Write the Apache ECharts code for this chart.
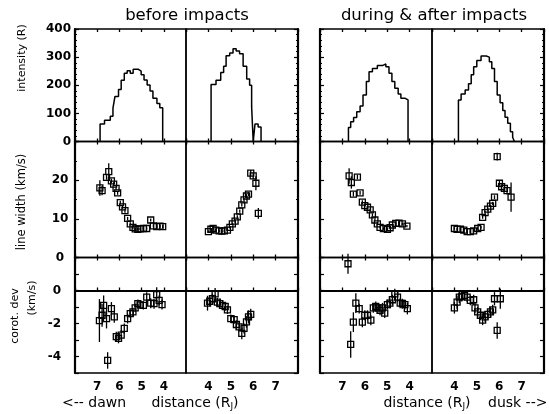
<!DOCTYPE html>
<html>
<head>
<meta charset="utf-8">
<script src="https://cdn.jsdelivr.net/npm/echarts@6/dist/echarts.min.js"></script>
<style>
html, body { margin: 0; padding: 0; background: #fff; }
#main { width: 549px; height: 414px; }
</style>
</head>
<body>
<div id="main"></div>
<script>
// distance (R_J) vs intensity (R), histogram edges: [distance, value]
var intBeforeDawn = [[6.87, 62], [6.67, 76], [6.41, 90], [6.29, 119], [6.2, 160], [6.04, 185], [5.92, 218], [5.78, 243], [5.65, 252], [5.51, 243], [5.38, 257], [5.16, 250], [5.02, 237], [4.89, 219], [4.75, 201], [4.62, 180], [4.49, 154], [4.31, 135], [4.18, 120], [4.05, 0]];
var intBeforeDusk = [[4.12, 203], [4.34, 218], [4.55, 245], [4.68, 268], [4.79, 305], [4.95, 315], [5.10, 330], [5.24, 322], [5.39, 312], [5.55, 268], [5.71, 222], [5.84, 200], [5.93, 124], [6.0, 0], [6.08, 62], [6.22, 52], [6.35, 0]];
var intAfterDawn = [[6.73, 50], [6.63, 70], [6.5, 85], [6.36, 106], [6.21, 126], [6.08, 165], [5.93, 213], [5.81, 248], [5.66, 260], [5.44, 270], [5.21, 276], [5.06, 266], [4.92, 243], [4.79, 213], [4.66, 189], [4.51, 169], [4.39, 154], [4.21, 148], [4.07, 0]];
var intAfterDusk = [[4.18, 148], [4.3, 169], [4.48, 183], [4.63, 205], [4.75, 237], [4.86, 266], [5.0, 288], [5.19, 304], [5.42, 300], [5.56, 284], [5.67, 260], [5.79, 213], [5.91, 165], [6.04, 138], [6.16, 110], [6.26, 86], [6.38, 65], [6.5, 35], [6.6, 15], [6.68, 0]];

// line width (km/s): [distance, value, error]
var lwBeforeDawn = [[6.88, 18.0, 2.0], [6.78, 17.3, 1.2], [6.58, 20.7, 0.6], [6.48, 22.2, 2.2], [6.36, 19.8, 0.6], [6.26, 19.0, 0.5], [6.15, 17.9, 0.5], [6.08, 16.7, 0.5], [5.96, 14.2, 0.5], [5.86, 13.1, 0.5], [5.75, 12.1, 0.5], [5.63, 10.1, 0.4], [5.51, 8.7, 0.4], [5.39, 7.8, 0.4], [5.29, 7.4, 0.3], [5.17, 7.3, 0.3], [5.07, 7.4, 0.3], [4.92, 7.5, 0.3], [4.77, 7.5, 0.3], [4.59, 9.7, 0.4], [4.47, 8.2, 0.4], [4.32, 8.0, 0.4], [4.17, 8.1, 0.4], [4.05, 8.0, 0.4]];
var lwBeforeDusk = [[4.0, 6.7, 0.3], [4.11, 7.3, 0.3], [4.21, 7.5, 0.3], [4.33, 7.1, 0.3], [4.48, 6.9, 0.3], [4.6, 6.8, 0.3], [4.71, 6.9, 0.3], [4.85, 7.1, 0.3], [4.96, 7.8, 0.3], [5.07, 8.7, 0.3], [5.19, 9.4, 0.4], [5.29, 10.5, 0.4], [5.4, 12.0, 0.4], [5.49, 13.6, 0.4], [5.59, 14.9, 0.4], [5.7, 15.9, 0.5], [5.79, 16.4, 0.5], [5.89, 21.8, 0.8], [6.0, 21.1, 0.8], [6.12, 19.2, 1.8], [6.23, 11.4, 1.4]];
var lwAfterDawn = [[6.7, 21.1, 2.0], [6.6, 19.4, 1.6], [6.51, 16.4, 0.6], [6.33, 20.8, 0.6], [6.21, 16.7, 0.5], [6.11, 14.3, 0.5], [6.0, 13.4, 0.5], [5.88, 13.0, 0.4], [5.76, 12.3, 0.4], [5.66, 11.0, 0.4], [5.55, 9.7, 0.4], [5.44, 8.7, 0.4], [5.32, 7.8, 0.3], [5.17, 7.5, 0.3], [4.99, 7.3, 0.3], [4.87, 7.7, 0.3], [4.77, 8.4, 0.3], [4.62, 8.8, 0.3], [4.47, 8.9, 0.3], [4.32, 8.7, 0.3], [4.12, 8.1, 0.3]];
var lwAfterDusk = [[4.0, 7.5, 0.3], [4.12, 7.3, 0.3], [4.27, 7.3, 0.3], [4.42, 7.1, 0.3], [4.57, 6.7, 0.3], [4.71, 6.7, 0.3], [4.86, 6.9, 0.3], [5.04, 7.5, 0.3], [5.19, 7.8, 0.3], [5.26, 10.4, 0.4], [5.37, 11.6, 0.4], [5.49, 12.5, 0.4], [5.61, 13.3, 0.4], [5.71, 14.0, 0.4], [5.79, 15.6, 0.5], [5.91, 26.1, 1.0], [6.01, 19.2, 0.6], [6.11, 18.3, 0.6], [6.23, 17.9, 0.8], [6.35, 17.3, 1.0], [6.53, 15.6, 3.8]];

// corotation deviation (km/s): [distance, value, error]
var cdBeforeDawn = [[6.9, -1.82, 1.3], [6.78, -1.5, 0.7], [6.71, -0.9, 0.6], [6.58, -1.7, 0.6], [6.53, -4.24, 0.5], [6.36, -1.1, 0.4], [6.23, -1.6, 0.35], [6.14, -2.8, 0.3], [6.04, -2.9, 0.3], [5.92, -2.7, 0.3], [5.78, -2.3, 0.3], [5.63, -1.7, 0.3], [5.51, -1.4, 0.25], [5.39, -1.3, 0.25], [5.29, -1.05, 0.25], [5.17, -0.8, 0.25], [5.07, -0.87, 0.25], [4.92, -0.9, 0.25], [4.77, -0.4, 0.3], [4.59, -0.77, 0.3], [4.44, -0.8, 0.3], [4.32, -0.25, 0.45], [4.21, -0.6, 0.3], [4.08, -0.85, 0.3]];
var cdBeforeDusk = [[3.96, -0.77, 0.45], [4.06, -0.65, 0.3], [4.18, -0.5, 0.3], [4.3, -0.2, 0.35], [4.4, -0.7, 0.25], [4.51, -0.8, 0.25], [4.63, -0.9, 0.25], [4.75, -0.97, 0.25], [4.85, -1.17, 0.25], [5.0, -1.7, 0.25], [5.15, -1.76, 0.25], [5.25, -2.06, 0.25], [5.37, -2.2, 0.3], [5.49, -2.6, 0.35], [5.59, -2.3, 0.3], [5.7, -1.9, 0.35], [5.79, -1.6, 0.4], [5.89, -1.45, 0.35]];
var cdAfterDawn = [[6.75, 1.62, 0.6], [6.63, -3.27, 0.8], [6.51, -1.92, 0.6], [6.4, -0.77, 0.6], [6.25, -1.1, 0.3], [6.11, -1.92, 0.3], [6.0, -1.5, 0.3], [5.88, -1.5, 0.3], [5.73, -1.8, 0.3], [5.62, -1.05, 0.3], [5.51, -0.97, 0.3], [5.41, -1.05, 0.3], [5.32, -1.2, 0.3], [5.21, -1.05, 0.3], [5.11, -1.37, 0.3], [4.99, -0.85, 0.3], [4.88, -0.77, 0.3], [4.77, -0.56, 0.3], [4.66, -0.2, 0.3], [4.54, -0.4, 0.3], [4.42, -0.77, 0.3], [4.32, -0.8, 0.3], [4.21, -0.85, 0.3], [4.1, -1.1, 0.35]];
var cdAfterDusk = [[4.0, -1.05, 0.35], [4.12, -0.7, 0.4], [4.22, -0.4, 0.35], [4.33, -0.36, 0.3], [4.45, -0.3, 0.3], [4.57, -0.4, 0.3], [4.71, -0.6, 0.3], [4.86, -0.56, 0.3], [4.92, -1.05, 0.3], [5.04, -1.3, 0.3], [5.16, -1.5, 0.3], [5.26, -1.8, 0.3], [5.37, -1.6, 0.3], [5.49, -1.45, 0.3], [5.61, -1.3, 0.3], [5.71, -1.17, 0.3], [5.79, -0.5, 0.4], [5.91, -2.42, 0.5], [6.05, -0.5, 0.6]];

// tick labels
var distTicks = [4, 5, 6, 7];
var intTicks = [0, 100, 200, 300, 400];
var lwTicks = [0, 10, 20];
var cdTicks = [0, -2, -4];

(function () {
    var myChart = echarts.init(document.getElementById('main'));
    var font = 'DejaVu Sans';

    // panel layout: 4 columns (dawn/dusk before, dawn/dusk after) x 3 rows
    var colLeft = [75, 186, 320, 432];
    var colWidth = [111, 112, 112, 112];
    var rowTop = [29, 141.5, 257.5];
    var rowHeight = [112.5, 116, 115.5];

    var intData = [intBeforeDawn, intBeforeDusk, intAfterDawn, intAfterDusk];
    var lwData = [lwBeforeDawn, lwBeforeDusk, lwAfterDawn, lwAfterDusk];
    var cdData = [cdBeforeDawn, cdBeforeDusk, cdAfterDawn, cdAfterDusk];

    var yCfg = [
        { min: 0, max: 400, interval: 100, minor: 5, ticks: intTicks, align: 'right', margin: 4 },
        { min: 0, max: 30, interval: 10, minor: 2, ticks: lwTicks, align: 'center', margin: 15 },
        { min: -5, max: 2, interval: 1, minor: 0, ticks: cdTicks, align: 'right', margin: 14 }
    ];

    var grids = [], xAxes = [], yAxes = [], series = [];

    function errorBars(data, p) {
        return {
            type: 'custom',
            xAxisIndex: 2 * p,
            yAxisIndex: p,
            data: data,
            z: 1,
            silent: true,
            encode: { x: 0, y: 1 },
            renderItem: function (params, api) {
                var x = api.value(0), v = api.value(1), e = api.value(2);
                var lo = api.coord([x, v - e]);
                var hi = api.coord([x, v + e]);
                return {
                    type: 'line',
                    shape: { x1: lo[0], y1: lo[1], x2: hi[0], y2: hi[1] },
                    style: { stroke: '#000', lineWidth: 1.3 }
                };
            }
        };
    }

    for (var r = 0; r < 3; r++) {
        for (var c = 0; c < 4; c++) {
            var p = r * 4 + c;
            var dawn = (c % 2 === 0);
            var cfg = yCfg[r];
            grids.push({
                left: colLeft[c], top: rowTop[r], width: colWidth[c], height: rowHeight[r],
                show: true, borderColor: '#000', borderWidth: 1.4,
                outerBoundsMode: 'none'
            });
            // bottom and top distance axes
            ['bottom', 'top'].forEach(function (pos) {
                var withLabels = (pos === 'bottom' && r === 2);
                xAxes.push({
                    type: 'value', gridIndex: p, position: pos,
                    min: 3, max: 8, interval: 1, inverse: dawn,
                    splitLine: { show: false },
                    axisLine: { show: withLabels, lineStyle: { color: '#000', width: 2 } },
                    axisTick: { show: true, inside: true, length: 3, lineStyle: { color: '#000', width: 1.3 } },
                    axisLabel: {
                        show: withLabels, color: '#000', fontSize: 12, fontWeight: 'bold',
                        fontFamily: font, margin: 8,
                        formatter: function (v) { return distTicks.indexOf(v) >= 0 ? String(v) : ''; }
                    }
                });
            });
            (function (cfg) {
                yAxes.push({
                    type: 'value', gridIndex: p, position: (c % 2 === 0) ? 'left' : 'right',
                    min: cfg.min, max: cfg.max, interval: cfg.interval,
                    splitLine: { show: false },
                    axisLine: { show: true, lineStyle: { color: '#000', width: 2.2 } },
                    axisTick: { show: true, inside: true, length: 4, lineStyle: { color: '#000', width: 1.2 } },
                    minorTick: { show: cfg.minor > 0, splitNumber: cfg.minor || 5, length: 2, lineStyle: { color: '#000', width: 1 } },
                    axisLabel: {
                        show: c === 0, color: '#000', fontSize: 12, fontWeight: 'bold', fontFamily: font,
                        align: cfg.align, margin: cfg.margin,
                        formatter: function (v) { return cfg.ticks.indexOf(v) >= 0 ? String(v) : ''; }
                    }
                });
            })(cfg);

            if (r === 0) {
                var d = intData[c];
                series.push({
                    type: 'line', xAxisIndex: 2 * p, yAxisIndex: p,
                    step: 'end', showSymbol: false, silent: true,
                    lineStyle: { color: '#000', width: 1.5 },
                    data: [[d[0][0], 0]].concat(d)
                });
            } else {
                var pts = (r === 1) ? lwData[c] : cdData[c];
                series.push(errorBars(pts, p));
                var sc = {
                    type: 'scatter', xAxisIndex: 2 * p, yAxisIndex: p,
                    symbol: 'rect', symbolSize: 6, silent: true, z: 2,
                    itemStyle: { color: 'rgba(255,255,255,0)', borderColor: '#000', borderWidth: 1.3, opacity: 1 },
                    data: pts.map(function (a) { return [a[0], a[1]]; })
                };
                if (r === 2) {
                    sc.markLine = {
                        silent: true, symbol: 'none', label: { show: false },
                        lineStyle: { color: '#000', type: [4, 3], width: 1 },
                        data: [{ yAxis: 0 }]
                    };
                }
                series.push(sc);
            }
        }
    }

    var txt = { fill: '#000', fontFamily: font };
    function label(x, y, text, size, rot, align) {
        return {
            type: 'text', x: x, y: y, rotation: rot || 0, silent: true,
            style: Object.assign({ text: text, fontSize: size, align: align || 'center', verticalAlign: 'middle' }, txt)
        };
    }
    var rj = {
        a: { fontSize: 14, fontFamily: font, fill: '#000' },
        s: { fontSize: 9, fontFamily: font, fill: '#000', padding: [7, 0, 0, 0] }
    };

    option = {
        backgroundColor: '#fff',
        animation: false,
        grid: grids,
        xAxis: xAxes,
        yAxis: yAxes,
        series: series,
        graphic: [
            label(187, 16, 'before impacts', 16.5),
            label(434, 16, 'during & after impacts', 16.5),
            label(22, 58, 'intensity (R)', 11, Math.PI / 2),
            label(22, 202, 'line width (km/s)', 11.5, Math.PI / 2),
            label(15, 316, 'corot. dev', 11, Math.PI / 2),
            label(32, 298, '(km/s)', 11, Math.PI / 2),
            label(62, 403, '<-- dawn', 14, 0, 'left'),
            {
                type: 'text', x: 195, y: 403, silent: true,
                style: { text: '{a|distance (R}{s|J}{a|)}', rich: rj, align: 'center', verticalAlign: 'middle' }
            },
            {
                type: 'text', x: 427, y: 403, silent: true,
                style: { text: '{a|distance (R}{s|J}{a|)}', rich: rj, align: 'center', verticalAlign: 'middle' }
            },
            label(488, 403, 'dusk -->', 14, 0, 'left')
        ]
    };
    myChart.setOption(option);
    window.addEventListener("resize", function () {
        myChart.resize();
    });
})();
</script>
</body>
</html>
